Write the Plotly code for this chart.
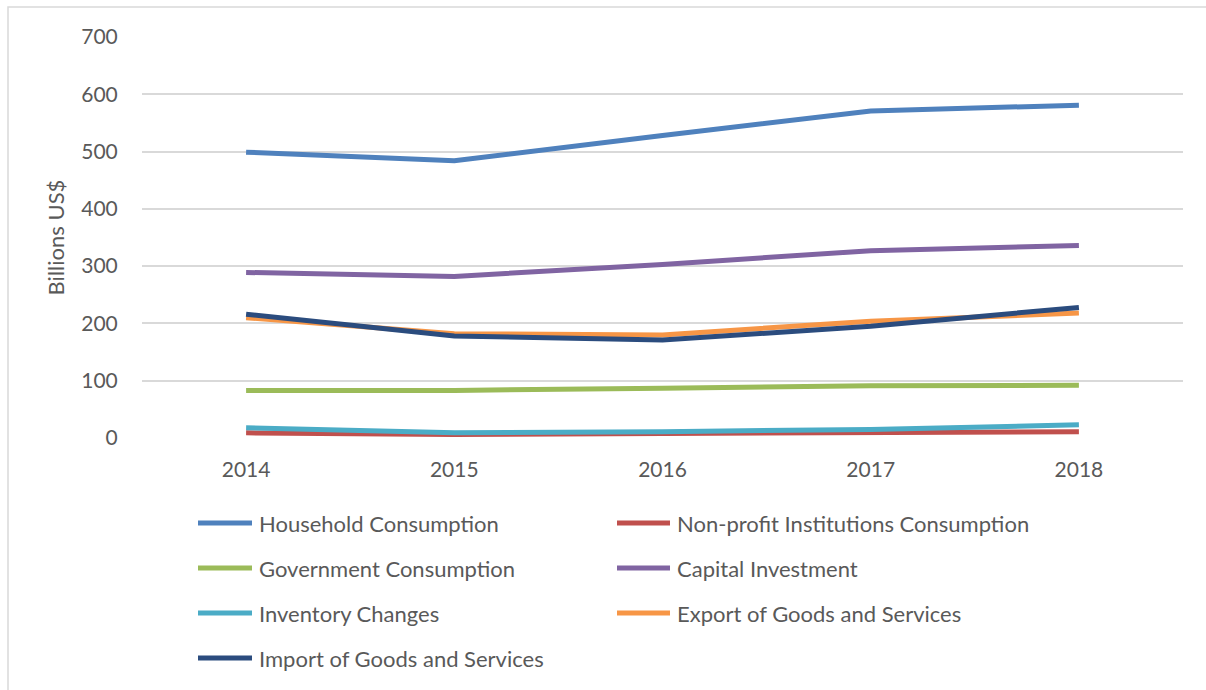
import plotly.graph_objects as go

# GDP expenditure components, billions US$
years = ["2014", "2015", "2016", "2017", "2018"]
household = [499, 484, 528, 571, 581]
nonprofit = [9, 6, 8, 10, 11]
government = [83, 83, 87, 91, 92]
capital = [289, 282, 303, 327, 336]
inventory = [18, 9, 11, 15, 23]
exports = [210, 182, 180, 204, 218]
imports = [216, 178, 171, 195, 228]

series = [
    ("Household Consumption", household, "#4F81BD"),
    ("Non-profit Institutions Consumption", nonprofit, "#C0504D"),
    ("Government Consumption", government, "#9BBB59"),
    ("Capital Investment", capital, "#8064A2"),
    ("Inventory Changes", inventory, "#4BACC6"),
    ("Export of Goods and Services", exports, "#F79646"),
    ("Import of Goods and Services", imports, "#2B4C7E"),
]

W, H = 1206, 690
L, R, T, B = 142, 1183, 37, 438  # plot area in pixels
FONT = "Lato"
TXT = "#595959"


def px(x):
    return (x - L) / (R - L)


def py(y):
    return (B - y) / (B - T)


fig = go.Figure()
for name, vals, color in series:
    fig.add_trace(go.Scatter(
        x=years, y=vals, name=name, mode="lines",
        line=dict(color=color, width=5),
        showlegend=False,
    ))

shapes = []
annotations = []

# outer chart border
shapes.append(dict(type="rect", xref="paper", yref="paper",
                   x0=px(8), x1=px(1215), y0=py(700), y1=py(7),
                   line=dict(color="#D9D9D9", width=1.5), layer="below"))

# two-column legend below the plot
rows_y = [523, 568, 613, 658]
cols = [(198, 252, 257), (617, 670, 675)]
for i, (name, _, color) in enumerate(series):
    r, c = divmod(i, 2)
    x0, x1, xt = cols[c]
    yy = rows_y[r]
    shapes.append(dict(type="line", xref="paper", yref="paper",
                       x0=px(x0), x1=px(x1), y0=py(yy), y1=py(yy),
                       line=dict(color=color, width=5)))
    annotations.append(dict(xref="paper", yref="paper", x=px(xt), y=py(yy),
                            text=name, showarrow=False, xanchor="left",
                            yanchor="middle",
                            font=dict(family=FONT, size=22, color=TXT)))

fig.update_layout(
    width=W, height=H,
    margin=dict(l=L, r=W - R, t=T, b=H - B),
    paper_bgcolor="white", plot_bgcolor="white",
    font=dict(family=FONT, size=21, color=TXT),
    shapes=shapes, annotations=annotations,
    xaxis=dict(
        type="category", range=[-0.5, 4.5],
        showgrid=False, zeroline=False, showline=False,
        ticks="outside", ticklen=13, tickcolor="rgba(0,0,0,0)",
        tickfont=dict(family=FONT, size=21, color=TXT),
    ),
    yaxis=dict(
        range=[0, 700], dtick=100,
        showgrid=True, gridcolor="#D9D9D9", gridwidth=1.5,
        zeroline=False, showline=False,
        ticks="outside", ticklen=19, tickcolor="rgba(0,0,0,0)",
        tickfont=dict(family=FONT, size=21, color=TXT),
        title=dict(text="Billions US$", standoff=10,
                   font=dict(family=FONT, size=22, color=TXT)),
    ),
)

fig.write_html("out.html")
